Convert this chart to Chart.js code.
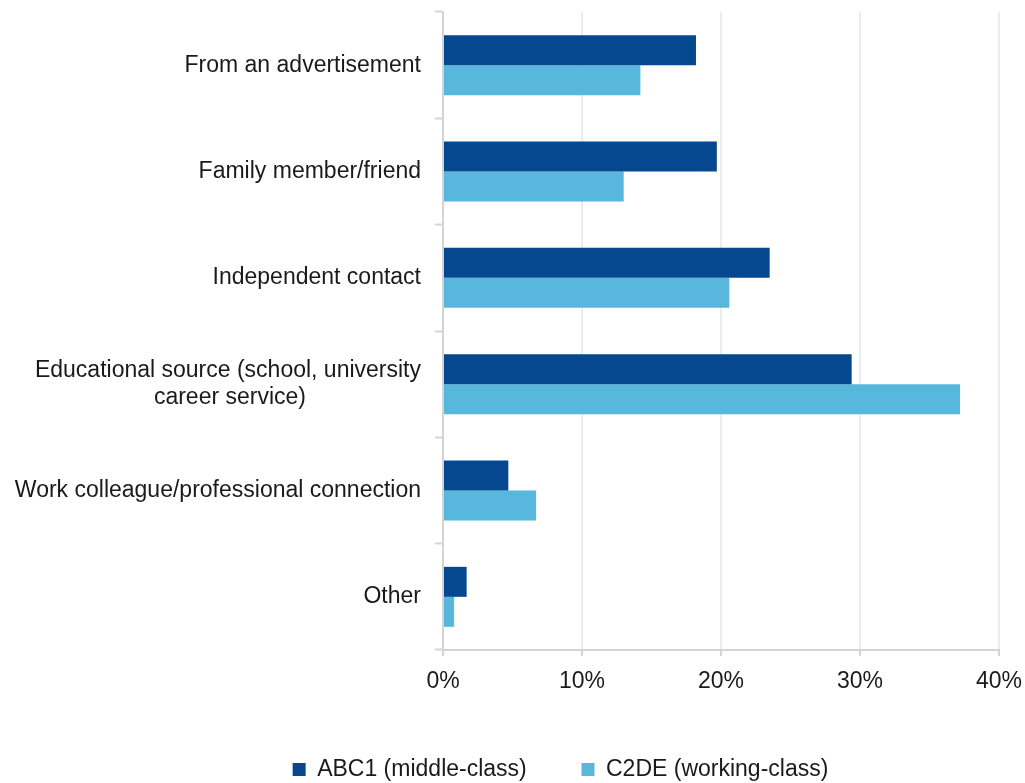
<!DOCTYPE html>
<html>
<head>
<meta charset="utf-8">
<script src="https://cdn.jsdelivr.net/npm/chart.js@4/dist/chart.umd.min.js"></script>
<style>
  html, body { margin: 0; padding: 0; background: #fff; }
  #wrap { width: 1025px; height: 783px; }
</style>
</head>
<body>
<div id="wrap"><canvas id="chart" width="1025" height="783"></canvas></div>
<script>
// values (percent)
const categories = [
  ['From an advertisement'],
  ['Family member/friend'],
  ['Independent contact'],
  ['Educational source (school, university', 'career service)'],
  ['Work colleague/professional connection'],
  ['Other']
];
const abc1 = [18.2, 19.7, 23.5, 29.4, 4.7, 1.7];
const c2de = [14.2, 13.0, 20.6, 37.2, 6.7, 0.8];
const seriesNames = ['ABC1 (middle-class)', 'C2DE (working-class)'];
const xTicks = [0, 10, 20, 30, 40];

const FONT = '"Liberation Sans", Arial, sans-serif';
const TEXT = '#1a1a1a';

// y labels are right aligned by Chart.js; pad the short line of a two-line
// label with trailing spaces so it sits centred under the long one
function centreLines(lines) {
  if (lines.length < 2) return lines[0];
  const ctx = document.createElement('canvas').getContext('2d');
  ctx.font = '23px ' + FONT;
  const widest = Math.max(...lines.map(l => ctx.measureText(l).width));
  const space = ctx.measureText(' ').width;
  return lines.map(l => {
    const n = Math.round((widest - ctx.measureText(l).width) / 2 / space);
    return l + ' '.repeat(n);
  });
}

// move the legend so it sits where the reference has it
const legendShift = {
  id: 'legendShift',
  afterLayout(chart) {
    const lg = chart.legend;
    lg.left += 56; lg.right += 56;
    lg.top += 8; lg.bottom += 8;
  }
};

new Chart(document.getElementById('chart'), {
  type: 'bar',
  data: {
    labels: categories.map(centreLines),
    datasets: [
      { label: seriesNames[0], data: abc1, backgroundColor: '#05488f', categoryPercentage: 0.564, barPercentage: 1 },
      { label: seriesNames[1], data: c2de, backgroundColor: '#57b7dc', categoryPercentage: 0.564, barPercentage: 1 }
    ]
  },
  options: {
    indexAxis: 'y',
    responsive: false,
    animation: false,
    layout: { padding: { left: 10, right: 26, top: 12, bottom: 0 } },
    plugins: {
      legend: {
        position: 'bottom',
        labels: {
          boxWidth: 13, boxHeight: 13, padding: 10,
          color: TEXT, font: { family: FONT, size: 23 },
          generateLabels: chart => chart.data.datasets.map((ds, i) => ({
            text: i === 0 ? ds.label + '       ' : ds.label,
            fillStyle: ds.backgroundColor, strokeStyle: ds.backgroundColor,
            lineWidth: 0, datasetIndex: i, fontColor: TEXT
          }))
        }
      },
      tooltip: { enabled: false }
    },
    scales: {
      x: {
        min: 0, max: 40,
        afterBuildTicks: s => { s.ticks = xTicks.map(v => ({ value: v })); },
        afterFit: s => { s.height = 90; s.paddingLeft = 0; s.paddingRight = 0; },
        border: { color: '#d4d4d4', width: 2 },
        grid: { color: '#ececec', lineWidth: 2, tickColor: '#d4d4d4', tickLength: 6, tickWidth: 2 },
        ticks: { color: TEXT, font: { family: FONT, size: 23 }, padding: 12, callback: v => v + '%' }
      },
      y: {
        afterFit: s => { s.width = 433; s.paddingTop = 0; s.paddingBottom = 0; },
        border: { color: '#d4d4d4', width: 2 },
        grid: { drawOnChartArea: false, tickColor: '#d4d4d4', tickLength: 8, tickWidth: 2 },
        ticks: { color: TEXT, font: { family: FONT, size: 23, lineHeight: 1.2 }, padding: 14 }
      }
    }
  },
  plugins: [legendShift]
});
</script>
</body>
</html>
